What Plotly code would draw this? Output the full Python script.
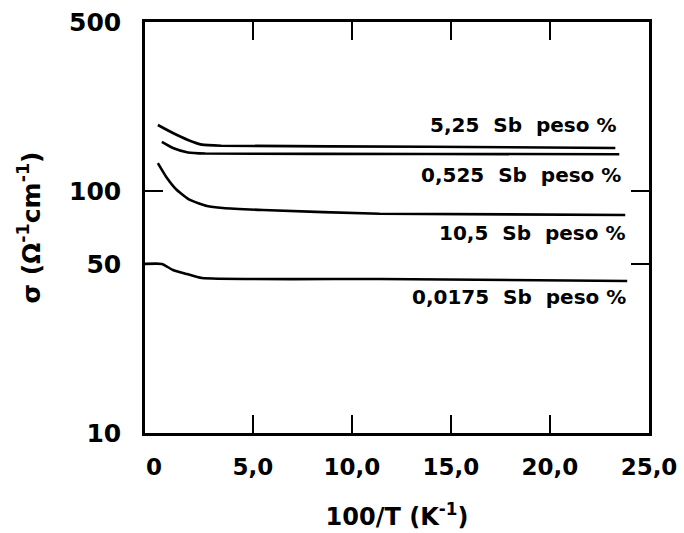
import plotly.graph_objects as go

# Data (x = 100/T in K^-1, y = sigma in ohm^-1 cm^-1)
x_5_25 = [0.2, 0.96, 1.72, 2.42, 3.4, 13.9, 23.3]
y_5_25 = [187.6, 173.8, 162.7, 155.6, 154.0, 152.6, 150.7]

x_0_525 = [0.4, 0.96, 1.72, 2.6, 13.9, 23.5]
y_0_525 = [159.6, 150.7, 144.5, 143.0, 142.4, 142.0]

x_10_5 = [0.2, 0.66, 1.16, 1.82, 2.68, 3.48, 5.5, 11.4, 23.8]
y_10_5 = [130.6, 113.3, 101.0, 91.9, 86.8, 85.1, 83.5, 80.6, 79.7]

x_0_0175 = [-0.45, 0.4, 0.96, 1.67, 2.42, 11.4, 23.9]
y_0_0175 = [50.0, 50.0, 47.2, 45.4, 43.7, 43.3, 42.5]

series_labels = ["5,25  Sb  peso %", "0,525  Sb  peso %", "10,5  Sb  peso %", "0,0175  Sb  peso %"]

x_label_vals = [0, 5, 10, 15, 20, 25]
x_label_text = ["0", "5,0", "10,0", "15,0", "20,0", "25,0"]
x_tick_vals = [5, 10, 15, 20]
y_label_vals = [10, 50, 100, 500]
y_label_text = ["10", "50", "100", "500"]
y_tick_vals = [50, 100]

FONT = "DejaVu Sans"
fig = go.Figure()
for xs, ys in [(x_5_25, y_5_25), (x_0_525, y_0_525), (x_10_5, y_10_5), (x_0_0175, y_0_0175)]:
    fig.add_trace(go.Scatter(x=xs, y=ys, mode="lines",
                             line=dict(color="black", width=2.6, shape="spline", smoothing=0.5),
                             showlegend=False, hoverinfo="skip"))

# invisible trace to activate secondary axes for tick marks
fig.add_trace(go.Scatter(x=[x_5_25[0]], y=[y_5_25[0]], xaxis="x2", yaxis="y2",
                         mode="markers", marker=dict(opacity=0), showlegend=False, hoverinfo="skip"))

xr = [-0.45, 25]
yr = [1, 2.69897]

fig.update_layout(
    width=684, height=533,
    margin=dict(l=145, r=35, t=22, b=100),
    paper_bgcolor="white", plot_bgcolor="white",
    font=dict(family=FONT, color="black"),
    xaxis=dict(range=xr, tickvals=x_label_vals, ticktext=x_label_text, ticks="",
               showgrid=False, zeroline=False, showline=True, linecolor="black", linewidth=2.5,
               mirror=True, tickfont=dict(size=23, family=FONT, weight="bold"),
               ticklabelstandoff=12, automargin=False,
               title=dict(text="100/T (K<sup>-1</sup>)", font=dict(size=24, family=FONT, weight="bold"),
                          standoff=29)),
    yaxis=dict(type="log", range=yr, tickvals=y_label_vals, ticktext=y_label_text, ticks="",
               showgrid=False, zeroline=False, showline=True, linecolor="black", linewidth=2.5,
               mirror=True, tickfont=dict(size=25, family=FONT, weight="bold"),
               ticklabelstandoff=16, automargin=False,
               title=dict(text="σ (Ω<sup>-1</sup>cm<sup>-1</sup>)", font=dict(size=25, family=FONT, weight="bold"),
                          standoff=22)),
    xaxis2=dict(range=xr, overlaying="x", tickvals=x_tick_vals, ticks="inside", ticklen=18,
                tickwidth=2.2, tickcolor="black", showticklabels=False, mirror="allticks",
                showgrid=False, zeroline=False, showline=False, automargin=False),
    yaxis2=dict(type="log", range=yr, overlaying="y", tickvals=y_tick_vals, ticks="inside", ticklen=18,
                tickwidth=2.2, tickcolor="black", showticklabels=False, mirror="allticks",
                showgrid=False, zeroline=False, showline=False, automargin=False),
)

label_pos = [(0.938, 0.749), (0.948, 0.628), (0.956, 0.487), (0.958, 0.331)]
for text, (px, py) in zip(series_labels, label_pos):
    fig.add_annotation(text=text, xref="paper", yref="paper", x=px, y=py,
                       xanchor="right", yanchor="middle", showarrow=False,
                       font=dict(size=20, family=FONT, weight="bold", color="black"))

fig.write_html("out.html")
